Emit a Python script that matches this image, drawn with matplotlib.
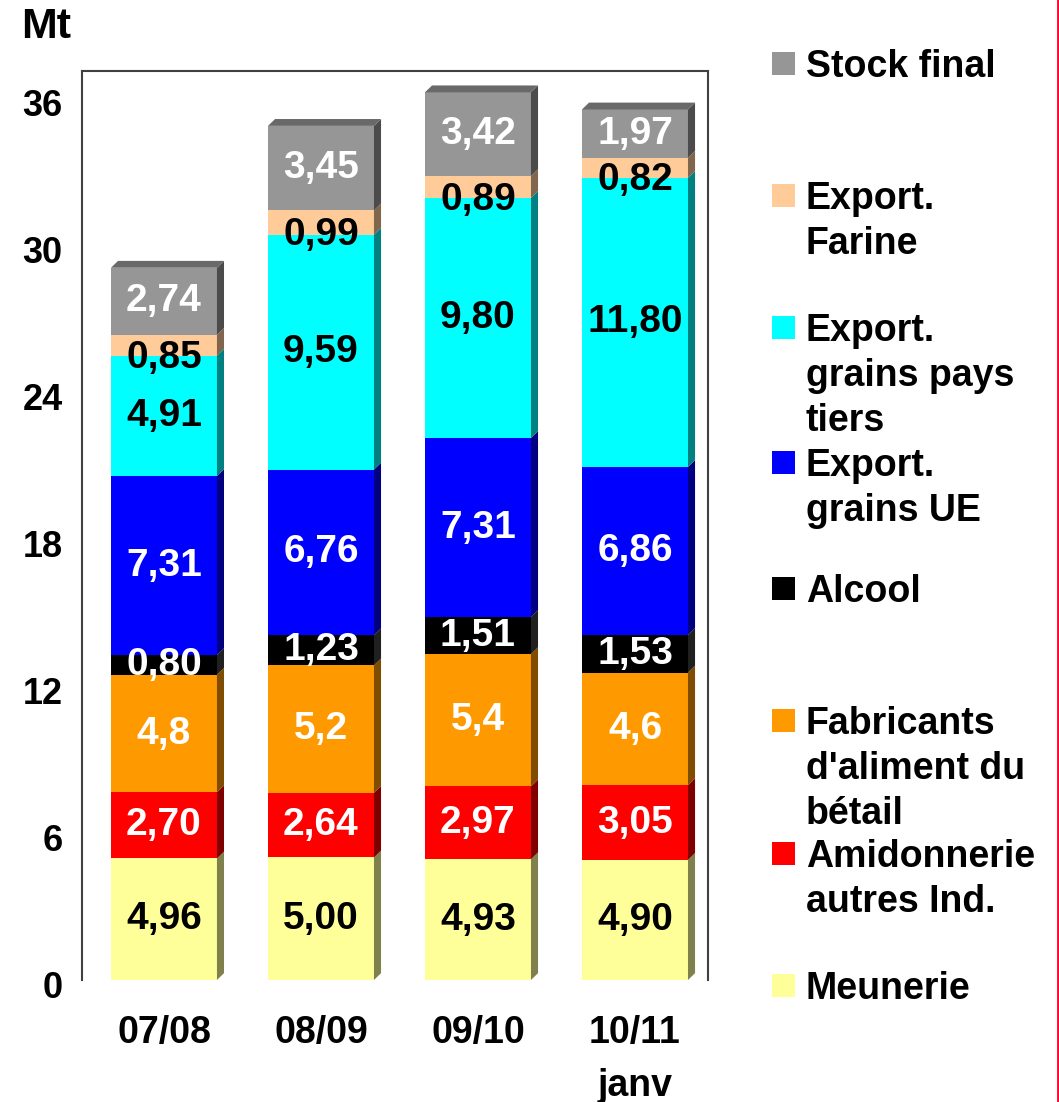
import matplotlib.pyplot as plt
from matplotlib.patches import Polygon, Rectangle
from matplotlib.lines import Line2D
from matplotlib.colors import to_rgb
from matplotlib.transforms import ScaledTranslation

####### data #######
campagnes = ['07/08', '08/09', '09/10', '10/11\njanv']
meunerie = [4.96, 5.00, 4.93, 4.90]
amidonnerie = [2.70, 2.64, 2.97, 3.05]
fabricants = [4.8, 5.2, 5.4, 4.6]
alcool = [0.80, 1.23, 1.51, 1.53]
export_ue = [7.31, 6.76, 7.31, 6.86]
export_tiers = [4.91, 9.59, 9.80, 11.80]
export_farine = [0.85, 0.99, 0.89, 0.82]
stock_final = [2.74, 3.45, 3.42, 1.97]

y_ticks = [0, 6, 12, 18, 24, 30, 36]

# series, bottom to top: (values, front colour, label colour, decimals, legend text)
series = [
    (meunerie, '#FFFF99', 'black', 2, 'Meunerie'),
    (amidonnerie, '#FF0000', 'white', 2, 'Amidonnerie\nautres Ind.'),
    (fabricants, '#FF9900', 'white', 1, "Fabricants\nd'aliment du\nbétail"),
    (alcool, '#000000', 'white', 2, 'Alcool'),
    (export_ue, '#0000FF', 'white', 2, 'Export.\ngrains UE'),
    (export_tiers, '#00FFFF', 'black', 2, 'Export.\ngrains pays\ntiers'),
    (export_farine, '#FFCC99', 'black', 2, 'Export.\nFarine'),
    (stock_final, '#969696', 'white', 2, 'Stock final'),
]
# legend first-line y positions (pixels from top)
legend_y = [985, 853, 720, 588, 462, 327, 195, 63]


def shade(c, f):
    r, g, b = to_rgb(c)
    return (r * f, g * f, b * f)


def main():
    font = 'Liberation Sans'
    W, H = 1059, 1102
    fig = plt.figure(figsize=(W / 100, H / 100), dpi=100)
    ax = fig.add_axes([82 / W, 1 - 980 / H, (708 - 82) / W, (980 - 71) / H])

    width = 0.675
    dx, dy = 0.045, 0.28  # 3D depth in data units
    bottoms = [0.0] * len(campagnes)
    for si, (vals, col, tcol, dec, _) in enumerate(series):
        side = shade(col, 0.5) if col != '#000000' else '#202020'
        for i, v in enumerate(vals):
            b = bottoms[i]
            t = b + v
            x0, x1 = i - width / 2, i + width / 2
            ax.add_patch(Rectangle((x0, b), width, v, facecolor=col, edgecolor='none', zorder=2))
            ax.add_patch(Polygon([(x1, b), (x1 + dx, b + dy), (x1 + dx, t + dy), (x1, t)],
                                 closed=True, facecolor=side, edgecolor='none', zorder=2))
            if si == len(series) - 1:
                ax.add_patch(Polygon([(x0, t), (x0 + dx, t + dy), (x1 + dx, t + dy), (x1, t)],
                                     closed=True, facecolor=shade(col, 0.7), edgecolor='none', zorder=2))
            lab = f'{v:.{dec}f}'.replace('.', ',')
            off = -9 if vals is export_farine else 0
            ax.annotate(lab, (i, b + v / 2), xytext=(0, off), textcoords='offset points',
                        ha='center', va='center', color=tcol, fontsize=28,
                        fontweight='bold', family=font, zorder=3)
            bottoms[i] = t

    ax.set_xlim(-0.522, 3.465)
    ax.set_ylim(0, 37.1)
    ax.set_yticks(y_ticks)
    ax.set_yticklabels([str(v) for v in y_ticks], fontsize=26, fontweight='bold', family=font)
    ax.set_xticks(range(len(campagnes)))
    ax.set_xticklabels(campagnes, fontsize=27, fontweight='bold', family=font, linespacing=1.6)
    ax.tick_params(axis='both', length=0)
    ax.tick_params(axis='y', pad=14)
    ax.tick_params(axis='x', pad=25)
    shift = ScaledTranslation(0, -5 / 100, fig.dpi_scale_trans)
    for lbl in ax.get_yticklabels():
        lbl.set_transform(lbl.get_transform() + shift)
    ax.spines['bottom'].set_visible(False)
    for s in ['left', 'top', 'right']:
        ax.spines[s].set_color('#404040')
        ax.spines[s].set_linewidth(1.5)

    fig.text(46 / W, 1 - 27 / H, 'Mt', ha='center', va='center', fontsize=31,
             fontweight='bold', family=font)

    # legend drawn by hand
    for (vals, col, tcol, dec, name), ly in zip(series, legend_y):
        fig.patches.append(Rectangle((772 / W, 1 - (ly + 12) / H), 23 / W, 23 / H,
                                     facecolor=col, edgecolor='none', transform=fig.transFigure))
        fig.text(806 / W, 1 - (ly - 14) / H, name, ha='left', va='top', fontsize=27,
                 fontweight='bold', family=font, linespacing=1.33)

    fig.add_artist(Line2D([1057.5 / W, 1057.5 / W], [0, 1], color='#FF0030', lw=2,
                          transform=fig.transFigure))

    fig.savefig('out.png', dpi=100)


if __name__ == '__main__':
    main()
